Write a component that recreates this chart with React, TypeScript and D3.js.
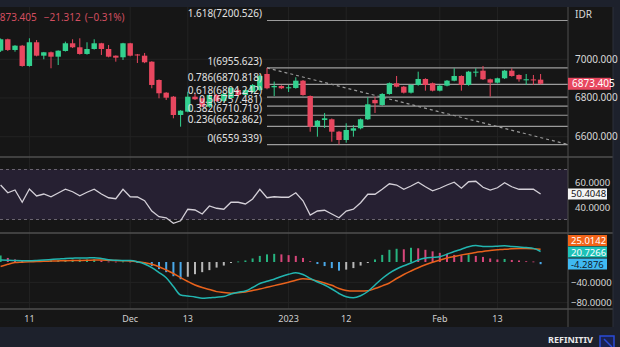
import React from "react";
import * as d3 from "d3";

const opens = [
  7044.4, 7103.4, 7048.1, 7070.3, 6965.4, 7087.9, 7018.6, 7036.2, 7013.4, 7042.9,
  7082.7, 7062, 7027.4, 7053.2, 7082.7, 7053.2, 7018.6, 7010.3, 7082.7, 7024.8,
  7018.6, 6987.6, 6893, 6827.4, 6806.7, 6712.1, 6729.2, 6806.7, 6798.4, 6755,
  6815.5, 6784.5, 6800, 6841.3, 6815.5, 6831, 6841.3, 6924, 6855.3, 6862,
  6850.1, 6851.7, 6889.4, 6810.3, 6651.7, 6686.3, 6689.9, 6625.8, 6582.9, 6631,
  6643.4, 6689.9, 6789.7, 6763.8, 6820.7, 6876, 6858.4, 6827.4, 6867.2, 6898.2,
  6876, 6837.7, 6863.6, 6889.4, 6913.7, 6867.2, 6934, 6941.1, 6896.6, 6879.1,
  6901.8, 6941.1, 6918.9, 6893, 6896, 6894.7,
];
const closes = [
  7103.4, 7048.1, 7070.3, 6965.4, 7087.9, 7018.6, 7036.2, 7013.4, 7044.4, 7082.7,
  7062, 7027.4, 7053.2, 7082.7, 7053.2, 7013.4, 7008.3, 7082.7, 7018.6, 7019.6,
  6984.5, 6867.2, 6824.3, 6801.5, 6712.1, 6734.4, 6806.7, 6793.3, 6755, 6815.5,
  6784.5, 6820.7, 6851.7, 6815.5, 6841.3, 6867.2, 6913.7, 6850.1, 6862, 6850.1,
  6855.3, 6889.4, 6815.5, 6651.7, 6682.7, 6695, 6625.8, 6582.9, 6634.6, 6643.4,
  6689.9, 6767.4, 6772.6, 6820.7, 6876, 6858.4, 6827.4, 6867.2, 6898.2, 6867.2,
  6837.7, 6863.6, 6889.4, 6913.7, 6867.2, 6935.9, 6936, 6896.6, 6879.1, 6901.8,
  6941.1, 6913.7, 6896.6, 6896.6, 6894.7, 6873.405,
];
const highs = [
  7107.5, 7106.5, 7073, 7074, 7108.5, 7099.7, 7038, 7040, 7046, 7091,
  7103.4, 7108.5, 7087.9, 7103.4, 7085, 7073.9, 7020, 7085, 7085, 7027.4,
  7032.6, 6990, 6896, 6830, 6810, 6737, 6832.6, 6824.3, 6801, 6818,
  6820, 6826, 6856, 6850, 6848, 6872, 6920, 6955.623, 6885, 6866,
  6867, 6907, 6893, 6813, 6686, 6722.5, 6694, 6630, 6669.2, 6660,
  6694, 6803.6, 6806.7, 6825, 6880, 6913.7, 6862, 6870, 6935.9, 6902,
  6880, 6867, 6893, 6953.5, 6917, 6940, 6953.5, 6965.4, 6900, 6905,
  6945, 6953.5, 6922, 6924, 6918.9, 6924,
];
const lows = [
  7037.7, 7042.9, 7039.3, 6962, 6962, 7015, 7000, 6953.5, 6970.5, 7040,
  7058, 7024, 7024, 7050, 7022.2, 7010, 6987.6, 6996.4, 7015, 6980.9,
  6980, 6850.1, 6798.4, 6789.7, 6695, 6651.7, 6726, 6790, 6752, 6750,
  6780, 6780, 6795, 6812, 6810, 6826, 6836, 6845, 6810, 6846,
  6831, 6848, 6812, 6625.8, 6600, 6645, 6574.2, 6559.339, 6569, 6600,
  6638, 6686, 6722.5, 6760, 6817, 6855, 6823, 6823, 6863, 6837.7,
  6834, 6834, 6860, 6886, 6837.7, 6863, 6910, 6893, 6806.7, 6875,
  6898, 6910, 6884.2, 6867, 6867, 6870,
];
const rsiValues = [
  57.6, 51.4, 53.6, 43.8, 54.4, 48.8, 50.4, 48.2, 51.2, 54.2,
  52.2, 49.0, 51.8, 54.2, 50.4, 47.4, 46.6, 54.2, 48.2, 48.0,
  45.0, 36.8, 32.2, 31.4, 27.0, 29.0, 38.2, 37.6, 34.4, 40.8,
  39.0, 38.2, 43.8, 43.8, 42.4, 46.4, 54.2, 47.4, 48.2, 47.8,
  47.8, 51.4, 45.0, 33.6, 36.8, 37.4, 34.4, 31.4, 36.8, 38.2,
  43.4, 50.2, 50.2, 54.2, 58.6, 57.6, 54.2, 56.8, 59.8, 56.2,
  53.0, 55.0, 57.6, 59.8, 55.0, 60.2, 60.6, 55.8, 53.6, 55.4,
  59.4, 56.2, 54.2, 54.2, 54.2, 50.4048,
];
const macdValues = [
  3.9, 3.3, 2.8, 2.6, 2.6, 3.1, 3.9, 4.9, 5.9, 7.1,
  7.5, 7.9, 8.1, 8.5, 6.9, 4.3, 3.5, 3.1, 2.8, 0.4,
  -3.9, -11.2, -20.7, -30.9, -48.2, -65, -67, -68.7, -71.5, -70.3,
  -69.3, -67.9, -63, -59.6, -57, -50.2, -42.3, -38, -33.9, -28.5,
  -24.2, -21.3, -24.6, -32.3, -39.4, -45.3, -53.1, -62, -68.5, -70.3,
  -66.3, -58.1, -45.3, -32.5, -21.7, -13.8, -7.5, -2, 3.9, 7.7,
  9.1, 10.4, 15.4, 20.5, 25.2, 30.1, 32.3, 30.7, 30.5, 31.1,
  31.9, 30.7, 29.5, 28.3, 26.8, 20.7266,
];
const signalValues = [
  -8.9, -4.5, -1.2, -0.4, 0.4, 0.8, 1.4, 1.8, 2.2, 2.6,
  2.9, 3.1, 3.3, 3.7, 3.9, 3.5, 2.9, 2.4, 2.0, 0.6,
  -1.4, -4.5, -9.4, -15.7, -22.6, -30.7, -38.4, -45.3, -50.2, -54.1,
  -58.3, -60, -61.4, -60.6, -59.1, -56.1, -53.1, -49.8, -46.5, -43.3,
  -40, -35.8, -32.9, -34.1, -37.4, -41.3, -45.9, -52.2, -56.1, -57.1,
  -57.1, -56.7, -52.2, -46.9, -41.3, -32.5, -24.6, -17.7, -11.2, -5.5,
  -0.4, 3.5, 7.9, 10.8, 13.8, 16.1, 18.7, 20.7, 22.8, 24,
  25.2, 26, 26.6, 26.8, 26.2, 25.0142,
];
const histValues = [
  12.8, 8, 5, 3, 2.5, 2.3, 2.5, 3, 3.5, 4.5,
  4.6, 4.8, 4.8, 5, 3, 1, 0.8, 1, 0.8, -0.5,
  -3, -8, -14, -20, -28, -34, -29, -24, -20, -16,
  -11, -7, -2, 1, 3, 7, 12, 15, 16, 15,
  13.5, 12, 8, 1.5, -4, -8, -12, -17, -15, -12,
  -7, -2, 5, 14, 24, 26, 25, 28, 27, 24,
  21, 18, 16, 14, 13, 15, 12, 10, 7, 5,
  6, 4, 3, 1.5, 1, -4.2876,
];

const tickIndex = [4, 18, 26, 40, 48, 61, 69];
const tickLabels = ["11", "Dec", "13", "2023", "12", "Feb", "13"];

const fibRatios = ["1.618", "1", "0.786", "0.618", "0.5", "0.382", "0.236", "0"];
const fibValues = [7200.526, 6955.623, 6870.818, 6804.242, 6757.481, 6710.719, 6652.862, 6559.339];
const fibStartIndex = 37;

const priceTicks = [7000, 6800, 6600];
const rsiTicks = [60, 40];
const rsiBand = [70, 30];
const macdTicks = [-40, -80];

const lastPrice = 6873.405;
const priceChange = -21.312;
const priceChangePct = -0.31;
const currency = "IDR";

const GREEN = "#33d18f";
const RED = "#e8475f";
const BG = "#161616";
const FRAME = "#1d212c";
const SEP = "#4f4f4f";
const GRID = "#232323";
const FONT = "'Noto Sans', 'Open Sans', sans-serif";

const W = 620;
const H = 347;
const AXIS_X = 568;
const RIGHT = 613;

export default function App() {
  const n = closes.length;
  const x = d3.scaleLinear().domain([0, n - 1]).range([0.6, 540.6]);
  const yP = d3.scaleLinear().domain([6495, 7265]).range([157, 8]);
  const yR = d3.scaleLinear().domain([19.2, 79.2]).range([233, 158]);
  const yM = d3.scaleLinear().domain([-92.5, 55.1]).range([309, 234]);

  const rsiLine = d3.line<number>().x((_, i) => x(i)).y((d) => yR(d));
  const macdLine = d3.line<number>().x((_, i) => x(i)).y((d) => yM(d)).curve(d3.curveMonotoneX);
  const sigLine = d3.line<number>().x((_, i) => x(i)).y((d) => yM(d)).curve(d3.curveMonotoneX);

  const histColor = (i: number) => {
    const h = histValues[i];
    const prev = i > 0 ? histValues[i - 1] : h - 1;
    if (h >= 0) return h >= prev ? "#26b37f" : "#d8467a";
    return h <= prev ? "#4aa8e8" : "#b8b8b8";
  };

  const fibX0 = x(fibStartIndex);
  const fmt = (v: number) => v.toFixed(3);

  return (
    <svg width={W} height={H} style={{ display: "block", position: "absolute", left: 0, top: 0 }} fontFamily={FONT}>
      <rect x={0} y={0} width={W} height={H} fill={FRAME} />
      <rect x={0} y={7} width={RIGHT} height={320} fill={BG} />

      {/* grid */}
      {tickIndex.map((t, i) => (
        <line key={"vg" + i} x1={x(t)} x2={x(t)} y1={7} y2={309} stroke={GRID} strokeWidth={1} />
      ))}
      {priceTicks.map((p, i) => (
        <line key={"hg" + i} x1={0} x2={AXIS_X} y1={yP(p)} y2={yP(p)} stroke={GRID} strokeWidth={1} />
      ))}
      {macdTicks.map((p, i) => (
        <line key={"mg" + i} x1={0} x2={AXIS_X} y1={yM(p)} y2={yM(p)} stroke={GRID} strokeWidth={1} />
      ))}

      {/* header */}
      <text x={-6} y={21} fill="#d34e60" fontSize={10}>
        {lastPrice.toFixed(3)}
        <tspan dx={7}>{(priceChange < 0 ? "\u2212" : "+") + Math.abs(priceChange).toFixed(3)}</tspan>
        <tspan dx={4}>{"(" + (priceChangePct < 0 ? "\u2212" : "+") + Math.abs(priceChangePct).toFixed(2) + "%)"}</tspan>
      </text>

      {/* fib lines */}
      {fibValues.map((v, i) => (
        <line key={"fl" + i} x1={fibX0} x2={AXIS_X} y1={yP(v)} y2={yP(v)} stroke="#9c9c9c" strokeWidth={1.2} />
      ))}
      <line
        x1={fibX0}
        y1={yP(fibValues[1])}
        x2={AXIS_X}
        y2={yP(fibValues[fibValues.length - 1])}
        stroke="#9a9a9a"
        strokeWidth={1.2}
        strokeDasharray="3,3"
      />

      {/* candles */}
      {closes.map((c, i) => {
        const o = opens[i];
        const up = c >= o;
        const col = up ? GREEN : RED;
        const top = yP(Math.max(o, c));
        const bot = yP(Math.min(o, c));
        const cx = x(i);
        return (
          <g key={"c" + i}>
            <line x1={cx} x2={cx} y1={yP(highs[i])} y2={yP(lows[i])} stroke={col} strokeWidth={1} />
            <rect x={cx - 2.7} y={top} width={5.4} height={Math.max(1, bot - top)} fill={col} />
          </g>
        );
      })}

      {/* fib labels */}
      {fibValues.map((v, i) => (
        <text key={"ft" + i} x={262} y={yP(v) - 3} fill="#e2e2e2" fontSize={10} textAnchor="end">
          {fibRatios[i] + "(" + fmt(v) + ")"}
        </text>
      ))}

      {/* RSI panel */}
      <rect x={0} y={yR(rsiBand[0])} width={AXIS_X} height={yR(rsiBand[1]) - yR(rsiBand[0])} fill="#262032" />
      {rsiBand.map((r, i) => (
        <line key={"rb" + i} x1={0} x2={AXIS_X} y1={yR(r)} y2={yR(r)} stroke="#6a6470" strokeWidth={1} strokeDasharray="3,3" />
      ))}
      <path d={rsiLine(rsiValues) || ""} fill="none" stroke="#d4d0d8" strokeWidth={1.3} />

      {/* MACD panel */}
      {histValues.map((h, i) => (
        <rect
          key={"h" + i}
          x={x(i) - 1}
          y={Math.min(yM(h), yM(0))}
          width={2}
          height={Math.max(0.8, Math.abs(yM(h) - yM(0)))}
          fill={histColor(i)}
        />
      ))}
      <path d={sigLine(signalValues) || ""} fill="none" stroke="#e8621c" strokeWidth={1.5} />
      <path d={macdLine(macdValues) || ""} fill="none" stroke="#22b5b0" strokeWidth={1.5} />

      {/* separators */}
      <line x1={0} x2={RIGHT} y1={157} y2={157} stroke={SEP} strokeWidth={1.5} />
      <line x1={0} x2={RIGHT} y1={233} y2={233} stroke={SEP} strokeWidth={1.5} />
      <line x1={0} x2={RIGHT} y1={309} y2={309} stroke={SEP} strokeWidth={1.5} />
      <line x1={AXIS_X} x2={AXIS_X} y1={7} y2={327} stroke={SEP} strokeWidth={1} />
      <line x1={RIGHT} x2={RIGHT} y1={7} y2={327} stroke="#2c303a" strokeWidth={1} />

      {/* right axis */}
      <text x={575} y={18} fill="#d8d8d8" fontSize={10}>{currency}</text>
      {priceTicks.map((p, i) => (
        <text key={"pt" + i} x={575} y={yP(p) + 3.5} fill="#d8d8d8" fontSize={10}>{fmt(p)}</text>
      ))}
      <rect x={568} y={yP(lastPrice) - 6} width={43} height={12} fill={RED} />
      <text x={572} y={yP(lastPrice) + 3.5} fill="#ffffff" fontSize={10}>{fmt(lastPrice)}</text>

      {rsiTicks.map((r, i) => (
        <text key={"rt" + i} x={575} y={yR(r) + 3.5} fill="#d8d8d8" fontSize={9.5}>{r.toFixed(4)}</text>
      ))}
      <rect x={568} y={yR(rsiValues[n - 1]) - 5.5} width={39} height={11} fill="#f4f4f4" />
      <text x={571} y={yR(rsiValues[n - 1]) + 3.5} fill="#111" fontSize={9.5}>{rsiValues[n - 1].toFixed(4)}</text>

      <rect x={568} y={235} width={39} height={11} fill="#f26419" />
      <text x={571} y={244} fill="#ffffff" fontSize={9.5}>{signalValues[n - 1].toFixed(4)}</text>
      <rect x={568} y={246.5} width={39} height={11} fill="#1fc2b8" />
      <text x={571} y={255.5} fill="#ffffff" fontSize={9.5}>{macdValues[n - 1].toFixed(4)}</text>
      <rect x={568} y={258.5} width={39} height={11} fill="#3fb9f2" />
      <text x={571} y={267.5} fill="#10202c" fontSize={9.5}>{histValues[n - 1].toFixed(4)}</text>
      {macdTicks.map((m, i) => (
        <text key={"mt" + i} x={571} y={yM(m) + 3.5} fill="#d8d8d8" fontSize={9.5}>{"\u2212" + Math.abs(m).toFixed(4)}</text>
      ))}

      {/* x axis */}
      {tickIndex.map((t, i) => (
        <text key={"xt" + i} x={x(t)} y={322} fill="#d0d0d0" fontSize={9} textAnchor="middle">{tickLabels[i]}</text>
      ))}

      {/* branding */}
      <text x={548} y={343} fill="#e8e8e8" fontSize={9} fontWeight="bold" textLength={45} lengthAdjust="spacingAndGlyphs">REFINITIV</text>
      <rect x={600} y={336} width={14} height={12} fill="#1a2250" stroke="#2a4bd8" strokeWidth={1.5} />
      <line x1={604} y1={339} x2={612} y2={347} stroke="#2a4bd8" strokeWidth={1.5} />
    </svg>
  );
}
